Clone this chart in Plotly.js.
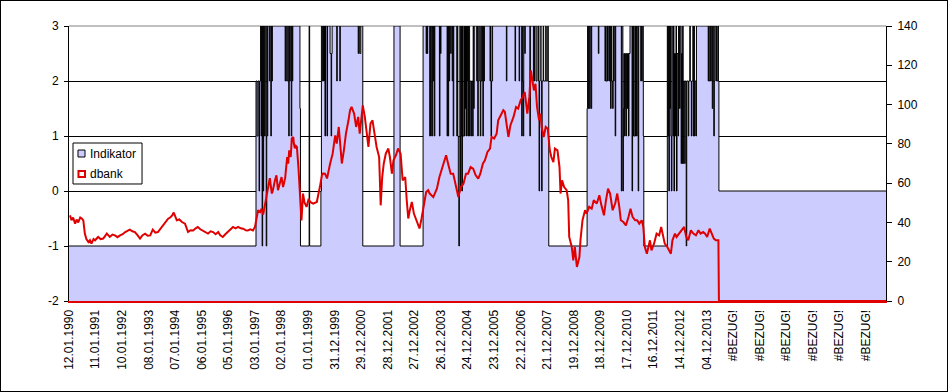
<!DOCTYPE html>
<html><head><meta charset="utf-8">
<script src="https://cdn.plot.ly/plotly-3.0.1.min.js"></script>
<style>html,body{margin:0;padding:0;background:#fff}#chart{width:946px;height:390px;border:1px solid #000}</style>
</head><body><div id="chart"></div>
<script>
// Category labels (one every 52 weeks)
const xLabels = ['12.01.1990','11.01.1991','10.01.1992','08.01.1993','07.01.1994','06.01.1995','05.01.1996','03.01.1997','02.01.1998','01.01.1999','31.12.1999','29.12.2000','28.12.2001','27.12.2002','26.12.2003','24.12.2004','23.12.2005','22.12.2006','21.12.2007','19.12.2008','18.12.2009','17.12.2010','16.12.2011','14.12.2012','04.12.2013','#BEZUG!','#BEZUG!','#BEZUG!','#BEZUG!','#BEZUG!','#BEZUG!'];
const labelStep = 52;
const totalWeeks = 1600;
const leftTicks = [-2,-1,0,1,2,3];
const leftTickText = ['-2','-1','0','1','2','3'];
const rightTicks = [0,20,40,60,80,100,120,140];
const seriesNames = ['Indikator', 'dbank'];

// Indikator: week where a new value starts, and that value
const indWeek = [0,
366,368,370,372,373,375,376,377,378,379,380,381,382,383,385,386,387,388,389,392,393,395,396,397,398,423,424,426,428,430,431,432,433,435,436,437,438,452,453,
470,471,
493,494,496,498,499,500,501,502,505,506,511,513,514,515,524,525,530,531,566,567,569,571,575,
636,648,
693,699,700,701,702,706,707,708,709,711,712,713,714,715,716,725,726,727,728,740,741,742,743,744,745,747,748,750,751,752,753,
759,760,761,762,763,764,765,766,767,768,769,770,771,773,774,775,776,777,778,779,780,781,782,784,785,787,788,790,791,792,793,
798,799,800,801,802,804,805,806,807,809,810,811,812,813,
824,825,826,827,829,856,857,873,874,881,882,886,887,888,889,890,892,893,902,903,
909,911,914,916,919,920,921,922,924,925,926,928,929,933,934,937,938,939,
1014,1015,1016,1017,1019,1020,1022,1023,1036,1037,
1049,1050,1051,1053,1054,1055,1057,1058,1060,1061,1062,1064,1065,1066,1067,1069,1070,
1081,1082,1084,1085,1086,1087,1088,1089,1090,1091,1093,1094,1095,1096,1098,
1102,1103,1104,1105,1106,1108,1109,1110,1111,1112,1114,1115,1119,1120,1121,1122,1124,1125,
1171,1172,1173,1174,1175,1176,1177,1178,1179,1180,1182,1183,1184,1185,1187,1188,1189,1190,1192,1193,1195,1196,1198,1199,1200,1201,1202,1203,1205,1206,1208,1209,1212,1213,1215,1216,1218,1219,1221,1222,1223,1224,1225,1227,1228,
1251,1252,1253,1255,1256,1257,1259,1260,1261,1262,1263,1266,1267,1268,1270,1271,1272,1599];
const indValue = [-1,
2,1,2,0,2,3,1,3,-1,3,0,3,1,3,1,-1,3,1,3,2,3,1,3,2,3,2,3,2,3,1,3,2,3,1,3,2,3,1.5,-1,
3,-1,
0,3,2,3,2,3,1,3,1,3,2.5,1,2.5,3,2,3,2,3,2.5,3,2.5,3,-1,
3,-1,
3,2.5,3,2.5,3,1,3,1,3,1,3,2,3,1,3,1,3,2.5,3,1,3,1,3,2,3,2.5,3,2,3,1,3,
1,3,1,0,-1,0,3,0,1,3,0,3,1,3,1,3,1.5,3,1,2,3,1,3,1,2,1,2,1,3,1.5,3,
2,3,1,2,3,2,1,3,2,3,1,3,2,3,
2,3,1,2,3,2,3,2,3,2,3,1,3,2,1,3,2.5,3,1,3,
2,3,2,3,2,0,2,3,2,0,2,3,2,3,2,3,2,-1,
1.5,3,1.5,3,1.5,3,1.5,3,2.5,3,
2,3,2,3,2,3,2,3,1.5,3,2,1.5,3,2,3,1,3,
0,3,0,1.5,2.5,1,2.5,1.5,1,2.5,1.5,2.5,1,2.5,3,
0,3,1,3,1,3,1,3,1,3,0,3,2,3,2,3,1,-1,
3,1,3,0,3,1.5,3,1,0,3,1,3,0,2.5,1,3,0,2.5,1,3,1.5,3,0.5,2.5,0.5,3,0.5,2,0.5,2,-1,2,1,2,3,2,1,2,3,1,3,1,2,1,3,
2,3,2,3,2,3,1.5,3,2,1,3,2,3,2,3,2,0,0];

// dbank (right axis)
const dbankWeek = [2,5,8,12,15,18,22,25,28,31,34,38,41,44,48,51,57,62,67,74,80,85,90,95,100,105,110,115,119,124,129,134,139,144,149,154,159,164,169,174,178,182,188,194,198,202,205,208,211,216,221,227,233,238,243,248,252,257,262,267,272,277,282,287,292,296,301,306,311,316,321,326,331,336,341,346,350,355,360,364,
366,370,374,377,380,384,389,393,397,399,403,406,409,413,416,419,423,427,429,431,434,436,439,440,442,444,446,449,451,452,455,458,461,465,469,472,478,485,489,491,495,497,501,505,511,516,521,524,528,532,534,538,542,547,550,553,558,562,566,569,575,579,583,586,590,594,597,602,607,610,613,616,620,625,628,632,635,640,644,649,653,658,661,664,667,671,675,680,686,690,693,699,703,706,713,720,725,729,734,738,742,747,752,757,762,767,772,777,781,786,791,796,801,805,810,814,819,824,827,832,837,840,845,850,853,857,860,864,870,875,879,884,888,892,897,901,904,907,910,913,916,920,923,925,929,933,937,941,944,948,951,956,960,962,965,969,974,977,979,984,987,990,994,999,1001,1005,1010,1013,1018,1023,1027,1033,1038,1042,1047,1051,1055,1059,1064,1069,1073,1077,1080,1085,1090,1095,1099,1103,1108,1112,1116,1121,1124,1127,1131,1134,1137,1140,1145,1150,1155,1159,1162,1166,1171,1175,1178,1181,1186,1189,1194,1199,1204,1208,1212,1217,1222,1227,1232,1236,1241,1245,1249,1254,1258,1262,1266,1271,1272,1599];
const dbankValue = [43.6,41.1,42.5,39.4,41.5,40,42.5,42,41,34.3,31.5,30,31,29.2,31.5,30.9,32.6,31.5,31.8,34.3,32.6,33.8,33.4,32.5,33.4,34,35.1,36,36.3,35.5,35.1,33.5,31.8,33.5,34.3,33.2,33.4,36.3,34.8,35.1,36.5,37.7,40.2,41.9,42.5,43.6,45,43,41.1,41.5,40.2,39.4,35.1,36,35.9,37,37.7,36.5,35.9,35,34.3,35.5,35.1,34,35.1,33.5,32.6,34,35.1,36.5,37.7,37,37.7,37,36.8,36,35.9,36.5,35.9,37.7,
41,46.2,45.3,47,44,50.4,56.4,62.5,54.7,56.3,61.4,64,56.4,60,63.1,58,62.4,73.3,69.9,76.7,73.3,82.8,83.5,80.2,77.7,79,78.4,68.2,56.4,56.4,41,54.7,50,47.9,52,50.4,49.6,50.4,54.7,58,64,64.9,64.8,62.4,69.9,75,84.3,80.1,88.6,75,70,76.7,85.2,92,97.1,98.8,95.4,88.6,93.7,85.2,99.6,93.7,85.2,78.4,90.3,92,86.9,78.4,73.3,48.7,63.1,69.9,75,77.6,73.3,64.8,71.6,74.2,77.6,75,61.4,63.1,51.3,42,46.2,50.4,44.5,41.1,36.9,42,46.2,55.5,56.4,54.7,52.9,57.2,63.1,66.5,69.9,74.2,69.9,64.8,64.8,58,52.9,58,59.7,64.8,64.8,68.2,67.4,64,62.3,64.8,69.9,71.6,75.9,77.6,83.5,82.7,85.2,92,94.6,97.1,96.3,88.6,83.5,89.5,93.7,98.8,98,102.2,103.9,106.4,95.4,103.9,117.4,112.3,107.2,110.6,98.8,92,95.4,88.6,83.5,88.6,87.7,76.7,73.3,70.7,77.6,76.7,68.2,54.7,61.4,58,56.4,51.3,32.6,27.5,20.7,27.5,17.3,22.4,30.9,41.1,46.2,44.5,47.9,47,51.3,49.6,53.8,48.7,43.6,51.3,57.2,54.7,46.2,49.6,54.7,47.9,41.1,40.2,38.5,42.8,47,42.8,41.1,41.1,39.4,41.1,37.7,27.5,24.1,27.5,30.9,25.8,29.2,34.3,33.4,37.7,34.3,29.2,27.5,25.8,24.1,30.9,34.3,32.6,34.3,36,37.7,32.6,30.9,36,34.3,33.4,36,34.3,35.1,34.3,32.6,36.9,34.3,31.8,30.9,30.9,0,0];

const font = {family: 'Liberation Sans, Arial, sans-serif', size: 12, color: '#000'};
const lastWeek = totalWeeks - 1;
const indFill = '#CCCCFF';
const dbankColor = '#E00000';

const traces = [
  {x: [0, lastWeek], y: [-2, -2], mode: 'lines', line: {width: 0, color: 'rgba(0,0,0,0)'}, showlegend: false, hoverinfo: 'skip'},
  {x: indWeek, y: indValue, name: seriesNames[0], mode: 'lines', line: {shape: 'hv', color: '#000', width: 1}, fill: 'tonexty', fillcolor: indFill, showlegend: false},
  {x: dbankWeek, y: dbankValue, name: seriesNames[1], mode: 'lines', yaxis: 'y2', line: {color: dbankColor, width: 2}, showlegend: false}
];

// Legend drawn in the style of the original (box with square keys)
const L = {x0: 0.0049, x1: 0.0894, y0: 0.4255, y1: 0.5745};
const legendShapes = [
  {type: 'rect', xref: 'paper', yref: 'paper', x0: L.x0, x1: L.x1, y0: L.y0, y1: L.y1, line: {color: '#000', width: 1}, fillcolor: '#fff', layer: 'above'},
  {type: 'rect', xref: 'paper', yref: 'paper', x0: 0.0110, x1: 0.0196, y0: 0.5236, y1: 0.5490, line: {color: '#000', width: 1}, fillcolor: indFill, layer: 'above'},
  {type: 'rect', xref: 'paper', yref: 'paper', x0: 0.0116, x1: 0.0196, y0: 0.4509, y1: 0.4727, line: {color: dbankColor, width: 2}, fillcolor: '#fff', layer: 'above'}
];
const legendTexts = [
  {xref: 'paper', yref: 'paper', x: 0.0235, y: 0.536, xanchor: 'left', yanchor: 'middle', text: seriesNames[0], showarrow: false, font: font},
  {xref: 'paper', yref: 'paper', x: 0.0235, y: 0.4618, xanchor: 'left', yanchor: 'middle', text: seriesNames[1], showarrow: false, font: font}
];

const layout = {
  width: 946, height: 390,
  margin: {l: 68, r: 61, t: 25, b: 90},
  paper_bgcolor: '#fff', plot_bgcolor: '#fff',
  font: font,
  showlegend: false,
  xaxis: {range: [0, lastWeek], tickvals: xLabels.map((_, i) => i * labelStep), ticktext: xLabels, tickangle: -90,
          showgrid: false, zeroline: false, showline: true, linecolor: dbankColor, linewidth: 2, ticks: '', ticklabelstandoff: 2, tickfont: font},
  yaxis: {range: [-2, 3], tickvals: leftTicks, ticktext: leftTickText, showgrid: true, gridcolor: '#000', gridwidth: 1,
          zeroline: false, showline: true, linecolor: '#000', linewidth: 1, ticks: 'outside', ticklen: 4, tickcolor: '#000', ticklabelstandoff: 3, tickfont: font},
  yaxis2: {range: [0, 140], tickvals: rightTicks, overlaying: 'y', side: 'right', showgrid: false, zeroline: false,
           showline: true, linecolor: '#000', linewidth: 1, ticks: 'outside', ticklen: 5, tickcolor: '#000', ticklabelstandoff: 3, tickfont: font},
  shapes: [{type: 'line', xref: 'paper', yref: 'paper', x0: 0, x1: 1, y0: 1, y1: 1, line: {color: '#808080', width: 1}, layer: 'below'}].concat(legendShapes),
  annotations: legendTexts
};

Plotly.newPlot('chart', traces, layout, {displayModeBar: false, staticPlot: true});
</script>
</body></html>
